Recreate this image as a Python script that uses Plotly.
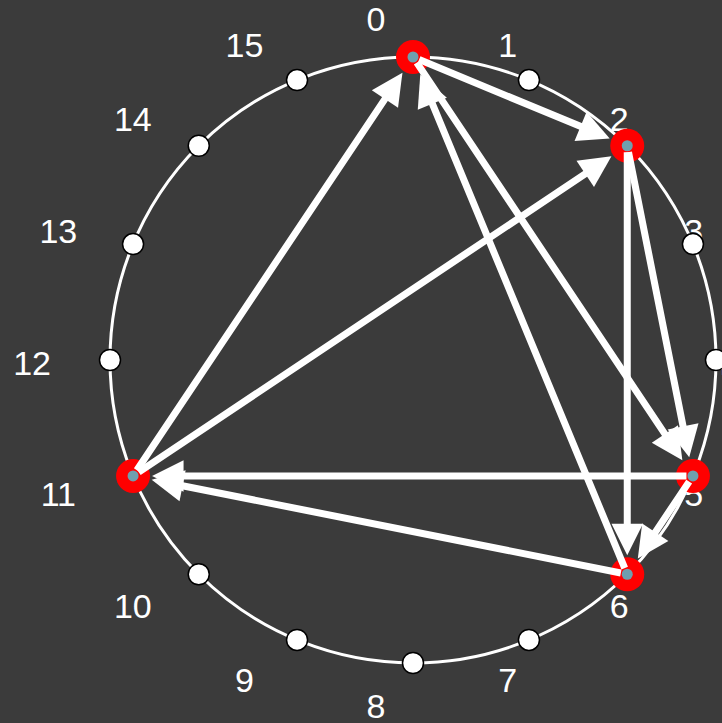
import numpy as np
import plotly.graph_objects as go

# ---- data ----
node_ids = list(range(16))
node_labels = [str(i) for i in node_ids]
highlighted = [0, 2, 5, 6, 11]
edge_sources = [0, 0, 2, 2, 5, 5, 6, 6, 11, 11]
edge_targets = [2, 5, 5, 6, 6, 11, 11, 0, 0, 2]

# ---- layout helpers ----
n = len(node_ids)
theta = 2 * np.pi * np.array(node_ids) / n
nx = np.sin(theta)
ny = np.cos(theta)

# label ring (slightly larger, offset)
lab_r = 1.135
lx = -0.122 + lab_r * np.sin(theta)
ly = -0.02 + lab_r * np.cos(theta)

BG = "#3b3b3b"
fig = go.Figure()

fig.add_shape(type="circle", xref="x", yref="y", x0=-1, y0=-1, x1=1, y1=1,
              line=dict(color="white", width=3), layer="below")

fig.add_trace(go.Scatter(x=lx, y=ly, mode="text", text=node_labels,
                         textfont=dict(family="Arial, 'Liberation Sans', sans-serif",
                                       size=34, color="white"),
                         hoverinfo="skip"))

fig.add_trace(go.Scatter(x=nx, y=ny, mode="markers",
                         marker=dict(size=21, color="white",
                                     line=dict(color="black", width=1.5)),
                         hoverinfo="skip"))

hx = nx[highlighted]
hy = ny[highlighted]
fig.add_trace(go.Scatter(x=hx, y=hy, mode="markers",
                         marker=dict(size=34, color="red", line=dict(width=0)),
                         hoverinfo="skip"))
fig.add_trace(go.Scatter(x=hx, y=hy, mode="markers",
                         marker=dict(size=11, color="#6f9fae", line=dict(width=0)),
                         hoverinfo="skip"))

for s, t in zip(edge_sources, edge_targets):
    fig.add_annotation(x=nx[t], y=ny[t], ax=nx[s], ay=ny[s],
                       xref="x", yref="y", axref="x", ayref="y",
                       text="", showarrow=True, arrowhead=2,
                       arrowsize=0.9, arrowwidth=7, arrowcolor="white",
                       standoff=19, startstandoff=5)

fig.update_layout(
    width=722, height=723,
    margin=dict(l=0, r=0, t=0, b=0),
    paper_bgcolor=BG, plot_bgcolor=BG,
    showlegend=False,
    hovermode=False,
    xaxis=dict(range=[-413 / 303, 309 / 303], visible=False, fixedrange=True),
    yaxis=dict(range=[-363 / 303, 360 / 303], visible=False, fixedrange=True),
)

fig.write_html(
    "out.html",
    config={"displayModeBar": False, "staticPlot": True},
    post_script="document.body.style.margin='0';"
                "document.body.style.background='" + BG + "';"
                "document.body.style.overflow='hidden';",
)
